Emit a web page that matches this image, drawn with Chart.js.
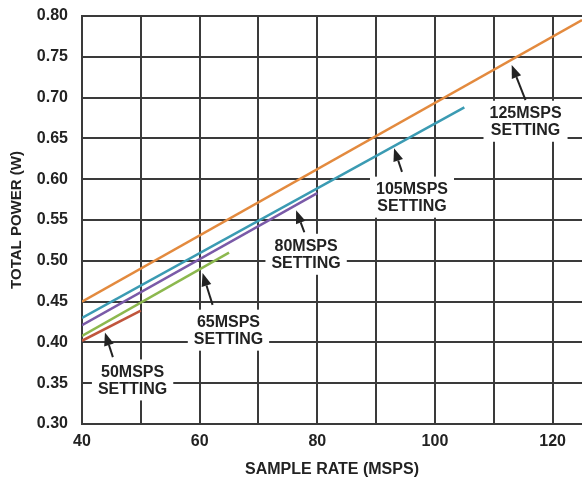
<!DOCTYPE html>
<html lang="en">
<head>
  <meta charset="UTF-8" />
  <title>Total Power vs Sample Rate</title>
  <script src="https://cdn.jsdelivr.net/npm/chart.js"></script>
  <style>
    html, body { margin: 0; padding: 0; background: #fff; }
    .wrap { width: 582px; height: 487px; }
  </style>
</head>
<body>
  <div class="wrap"><canvas id="grafico"></canvas></div>

  <script>
    // sample rate (MSPS) and total power (W) for each setting
    const rate125 = [40, 125];
    const power125 = [0.45, 0.795];
    const rate105 = [40, 105];
    const power105 = [0.43, 0.688];
    const rate80 = [40, 80];
    const power80 = [0.421, 0.583];
    const rate65 = [40, 65];
    const power65 = [0.408, 0.51];
    const rate50 = [40, 50];
    const power50 = [0.402, 0.439];

    const xGrid = [40, 50, 60, 70, 80, 90, 100, 110, 120];
    const xTicks = [40, 60, 80, 100, 120];

    const toPoints = (xs, ys) => xs.map((x, i) => ({ x: x, y: ys[i] }));

    // callouts: text centre, arrow tail, arrow head (in data units)
    const notas = [
      { txt: ['125MSPS', 'SETTING'], at: [115.4, 0.671], tail: [115.4, 0.697], head: [113.05, 0.740] },
      { txt: ['105MSPS', 'SETTING'], at: [96.1, 0.578], tail: [94.4, 0.609], head: [93.05, 0.638] },
      { txt: ['80MSPS', 'SETTING'], at: [78.1, 0.508], tail: [77.8, 0.535], head: [76.4, 0.562] },
      { txt: ['65MSPS', 'SETTING'], at: [64.9, 0.415], tail: [62.2, 0.446], head: [60.5, 0.485] },
      { txt: ['50MSPS', 'SETTING'], at: [48.6, 0.354], tail: [45.25, 0.382], head: [43.9, 0.412] }
    ];

    const fuente = 'Liberation Sans, Arial, sans-serif';

    const callouts = {
      id: 'callouts',
      afterDatasetsDraw(chart) {
        const ctx = chart.ctx;
        const xs = chart.scales.x, ys = chart.scales.y;
        ctx.save();
        ctx.font = 'bold 16px ' + fuente;
        ctx.textAlign = 'center';
        ctx.textBaseline = 'middle';
        notas.forEach(n => {
          const cx = xs.getPixelForValue(n.at[0]);
          const cy = ys.getPixelForValue(n.at[1]);
          const w = Math.max(...n.txt.map(t => ctx.measureText(t).width)) + 12;
          const lh = 16.5;
          const h = lh * n.txt.length + 8;
          ctx.fillStyle = '#fff';
          ctx.fillRect(cx - w / 2, cy - h / 2, w, h);
          ctx.fillStyle = '#222';
          n.txt.forEach((t, i) => {
            ctx.fillText(t, cx, cy - lh / 2 + i * lh + 1);
          });

          // arrow
          const tx = xs.getPixelForValue(n.tail[0]), ty = ys.getPixelForValue(n.tail[1]);
          const hx = xs.getPixelForValue(n.head[0]), hy = ys.getPixelForValue(n.head[1]);
          const ang = Math.atan2(hy - ty, hx - tx);
          const len = 13, half = 5;
          const bx = hx - len * Math.cos(ang), by = hy - len * Math.sin(ang);
          ctx.strokeStyle = '#222';
          ctx.lineWidth = 2;
          ctx.beginPath();
          ctx.moveTo(tx, ty);
          ctx.lineTo(bx, by);
          ctx.stroke();
          ctx.beginPath();
          ctx.moveTo(hx, hy);
          ctx.lineTo(bx + half * Math.sin(ang), by - half * Math.cos(ang));
          ctx.lineTo(bx - half * Math.sin(ang), by + half * Math.cos(ang));
          ctx.closePath();
          ctx.fill();
        });
        ctx.restore();
      }
    };

    const serie = (xs, ys, color) => ({
      data: toPoints(xs, ys),
      borderColor: color,
      backgroundColor: color,
      borderWidth: 2.5,
      pointRadius: 0,
      showLine: true,
      tension: 0
    });

    const ctx = document.getElementById('grafico').getContext('2d');
    new Chart(ctx, {
      type: 'scatter',
      data: {
        datasets: [
          serie(rate50, power50, '#c0553c'),
          serie(rate65, power65, '#8cb84e'),
          serie(rate80, power80, '#7a5aa8'),
          serie(rate105, power105, '#3b9bb3'),
          serie(rate125, power125, '#e38a3e')
        ]
      },
      options: {
        responsive: true,
        maintainAspectRatio: false,
        animation: false,
        layout: { padding: { top: 16, right: 0, left: 0, bottom: 0 } },
        plugins: {
          legend: { display: false },
          tooltip: { enabled: false }
        },
        scales: {
          x: {
            type: 'linear',
            min: 40,
            max: 125,
            afterBuildTicks: axis => {
              axis.ticks = xGrid.map(v => ({ value: v }));
            },
            afterFit: scale => { scale.height = 63; },
            ticks: {
              padding: 8,
              color: '#222',
              font: { family: fuente, size: 16, weight: 'bold' },
              callback: v => xTicks.includes(v) ? String(v) : ''
            },
            grid: { color: '#3a3a3a', lineWidth: 2, drawTicks: false },
            border: { color: '#3a3a3a', width: 2 },
            title: {
              display: true,
              text: 'SAMPLE RATE (MSPS)',
              color: '#222',
              font: { family: fuente, size: 16, weight: 'bold' },
              padding: { top: 0, bottom: 8 }
            }
          },
          y: {
            min: 0.3,
            max: 0.8,
            afterFit: scale => {
              scale.width = 82;
              scale.paddingTop = 0;
              scale.paddingBottom = 0;
            },
            ticks: {
              stepSize: 0.05,
              padding: 14,
              color: '#222',
              font: { family: fuente, size: 16, weight: 'bold' },
              callback: v => v.toFixed(2)
            },
            grid: { color: '#3a3a3a', lineWidth: 2, drawTicks: false },
            border: { color: '#3a3a3a', width: 2 },
            title: {
              display: true,
              text: 'TOTAL POWER (W)',
              color: '#222',
              font: { family: fuente, size: 15, weight: 'bold' },
              padding: { top: 8, bottom: 0 }
            }
          }
        }
      },
      plugins: [callouts]
    });
  </script>
</body>
</html>
